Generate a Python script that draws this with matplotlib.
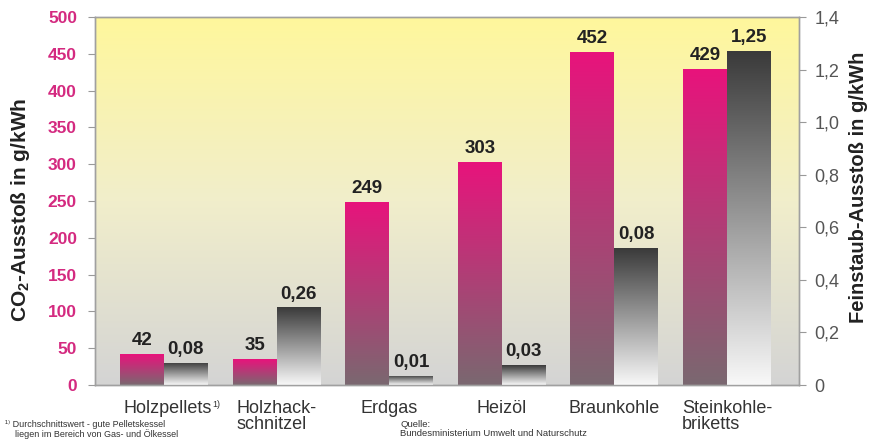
import matplotlib
matplotlib.use("Agg")
import matplotlib.pyplot as plt
import numpy as np
from matplotlib.colors import LinearSegmentedColormap

plt.rcParams['font.family'] = ['Liberation Sans', 'DejaVu Sans']
plt.rcParams['mathtext.fontset'] = 'custom'
plt.rcParams['mathtext.rm'] = 'Liberation Sans'
plt.rcParams['mathtext.bf'] = 'Liberation Sans:bold'

# data
categories = ["Holzpellets", "Holzhack-\nschnitzel", "Erdgas",
              "Heizöl", "Braunkohle", "Steinkohle-\nbriketts"]
co2 = [42, 35, 249, 303, 452, 429]
co2_labels = ["42", "35", "249", "303", "452", "429"]
dust = [0.085, 0.295, 0.035, 0.075, 0.52, 1.27]   # drawn bar heights
dust_labels = ["0,08", "0,26", "0,01", "0,03", "0,08", "1,25"]
left_ticks = [0, 50, 100, 150, 200, 250, 300, 350, 400, 450, 500]
right_ticks = [0, 0.2, 0.4, 0.6, 0.8, 1.0, 1.2, 1.4]
right_ticklabels = ["0", "0,2", "0,4", "0,6", "0,8", "1,0", "1,2", "1,4"]

PINK = "#d42a80"
W = 0.39
XL = (-0.613, 5.64)

fig = plt.figure(figsize=(8.8, 4.46), dpi=100)
ax = fig.add_axes([95/880, 1-385/446, 704/880, 368/446])
ax2 = ax.twinx()

grad = np.linspace(0, 1, 256)[:, None]

# background gradient, grey at the bottom to yellow at the top
bg = LinearSegmentedColormap.from_list("bg", ["#d4d4d4", "#f1eecb", "#fff79c"])
ax.imshow(grad, extent=(XL[0], XL[1], 0, 500), origin="lower", aspect="auto",
          cmap=bg, zorder=0)


def grad_bar(axis, x, h, c_bot, c_top):
    b = axis.bar(x, h, W, color="none", edgecolor="none", zorder=3)[0]
    cm = LinearSegmentedColormap.from_list("g", [c_bot, c_top])
    im = axis.imshow(grad, extent=(x - W/2, x + W/2, 0, h), origin="lower",
                     aspect="auto", cmap=cm, zorder=2)
    im.set_clip_path(b)


x = np.arange(len(categories))
for i in x:
    grad_bar(ax, i - W/2, co2[i], "#7a6870", "#e8137c")
    ax.annotate(co2_labels[i], (i - W/2, co2[i]), xytext=(0, 3.5),
                textcoords="offset points", ha="center", va="bottom",
                fontsize=13.5, fontweight="bold", color="#222222")
    grad_bar(ax2, i + W/2, dust[i], "#f8f8f8", "#3a3a3a")
    ax2.annotate(dust_labels[i], (i + W/2, dust[i]), xytext=(0, 3.5),
                 textcoords="offset points", ha="center", va="bottom",
                 fontsize=13.5, fontweight="bold", color="#222222")

ax.set_xlim(*XL)
ax.set_ylim(0, 500)
ax2.set_ylim(0, 1.4)
ax2.set_xlim(*XL)

ax.set_xticks([])
ax.set_yticks(left_ticks)
ax.set_yticklabels([str(t) for t in left_ticks], color=PINK,
                   fontweight="bold", fontsize=12.5)
ax.tick_params(axis="y", length=5, color="#999999", pad=8)
ax2.set_yticks(right_ticks)
ax2.set_yticklabels(right_ticklabels, color="#555555", fontsize=13)
ax2.tick_params(axis="y", length=5, color="#999999", pad=6)

for a in (ax, ax2):
    for s in a.spines.values():
        s.set_color("#a0a0a0")
        s.set_linewidth(1)

for i, c in enumerate(categories):
    t = ax.text(i + (0.03 if i == 0 else 0), -0.04, c,
                transform=ax.get_xaxis_transform(), ha="center", va="top",
                multialignment="left", fontsize=13, color="#333333",
                linespacing=0.95)
    if i == 0:
        ax.annotate("1)", xy=(1, 1), xycoords=t, xytext=(0.8, -0.5),
                    textcoords="offset points", ha="left", va="top",
                    fontsize=6.5, color="#333333")

fig.text(0.023, 0.53, "CO$_\\mathbf{2}$-Ausstoß in g/kWh", rotation=90,
         ha="center", va="center", fontsize=15, fontweight="bold", color="#222222")
fig.text(0.975, 0.58, "Feinstaub-Ausstoß in g/kWh", rotation=90,
         ha="center", va="center", fontsize=14.5, fontweight="bold", color="#222222")

fig.text(0.006, 0.038, "¹⁾ Durchschnittswert - gute Pelletskessel\n"
         "    liegen im Bereich von Gas- und Ölkessel",
         fontsize=6.5, color="#333333", va="center", linespacing=1.0)
fig.text(0.455, 0.038, "Quelle:\nBundesministerium Umwelt und Naturschutz",
         fontsize=6.8, color="#333333", va="center", linespacing=1.0)

fig.savefig("out.png", dpi=100)
